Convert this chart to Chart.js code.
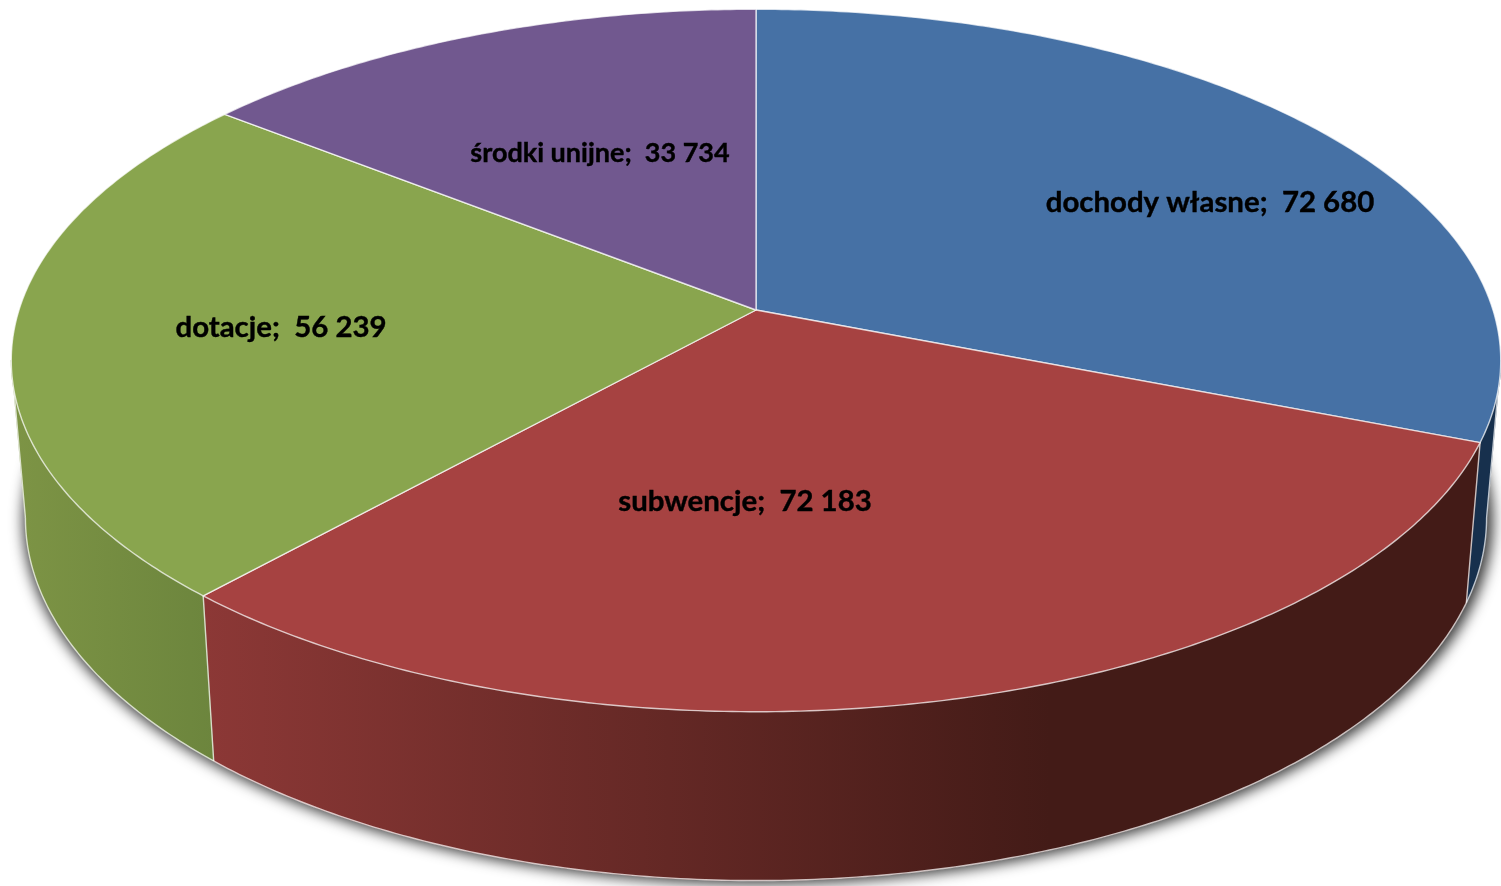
<!DOCTYPE html>
<html lang="pl">
<head>
<meta charset="utf-8">
<title>Dochody</title>
<style>
  html, body { margin: 0; padding: 0; background: #fff; }
  canvas { display: block; }
</style>
<script src="https://cdn.jsdelivr.net/npm/chart.js@4/dist/chart.umd.min.js"></script>
</head>
<body>
<canvas id="chart" width="1501" height="886"></canvas>
<script>
var categories = ["dochody własne", "subwencje", "dotacje", "środki unijne"];
var values = [72680, 72183, 56239, 33734];
var topColors = ["#4671a5", "#a64241", "#89a54e", "#71588f"];
var wallColors = [["#17304d", "#17304d"], ["#8c3836", "#431b17"], ["#7d9445", "#6c853d"], ["#5a4672", "#5a4672"]];
var wallSpans = [[1460, 1500], [204, 1050], [12, 215], [0, 1]];

// label centres on the page and font sizes, same order as categories
var labelCentres = [[1210, 203], [745, 502], [281, 328], [600, 153]];
var labelSizes = [29.4, 29.4, 29.4, 27];

// perspective of the disc: rim plane for the top face, bottom face and shadow
var topFace = { cx: 756, cy: 310, rx: 737, ry: 344, k: -0.1437 };
var bottomFace = { cx: 756, cy: 466, rx: 723, ry: 355, k: -0.1437 };
var shadowFace = { cx: 758, cy: 468, rx: 727, ry: 356, k: -0.1437 };
var rimEdge = "rgba(255,255,255,0.72)";

function project(face, angle) {
  var u = Math.cos(angle), v = Math.sin(angle);
  var d = 1 + face.k * v;
  return { x: face.cx + face.rx * u / d, y: face.cy + face.ry * v / d };
}

function traceRim(ctx, face, from, to) {
  var steps = Math.max(2, Math.ceil(Math.abs(to - from) / 0.01));
  for (var i = 0; i <= steps; i++) {
    var p = project(face, from + (to - from) * i / steps);
    ctx.lineTo(p.x, p.y);
  }
}

function connector(ctx, angle) {
  var a = project(topFace, angle), b = project(bottomFace, angle);
  ctx.moveTo(a.x, a.y);
  ctx.lineTo(b.x, b.y);
}

// angles where the side of the disc turns away: widest connector at mid height
function silhouetteAngles() {
  var right = 0, left = Math.PI, best = [-Infinity, Infinity];
  for (var t = 0; t <= Math.PI; t += 0.002) {
    var mid = (project(topFace, t).x + project(bottomFace, t).x) / 2;
    if (mid > best[0]) { best[0] = mid; right = t; }
    if (mid < best[1]) { best[1] = mid; left = t; }
  }
  return { right: right, left: left };
}

function formatValue(v) {
  return String(v).replace(/\B(?=(\d{3})+$)/g, " ");
}

// top face of a slice, drawn by the arc element itself
class PerspectiveArc extends Chart.ArcElement {
  draw(ctx) {
    var a = this.getProps(["startAngle", "endAngle"]);
    ctx.save();
    ctx.beginPath();
    ctx.moveTo(topFace.cx, topFace.cy);
    traceRim(ctx, topFace, a.startAngle, a.endAngle);
    ctx.closePath();
    ctx.fillStyle = this.options.backgroundColor;
    ctx.fill();
    ctx.strokeStyle = rimEdge;
    ctx.lineWidth = 1.4;
    ctx.lineJoin = "round";
    ctx.stroke();
    ctx.restore();
  }
}
PerspectiveArc.id = "perspectiveArc";

class PerspectivePie extends Chart.PieController {}
PerspectivePie.id = "perspectivePie";
PerspectivePie.defaults = { dataElementType: "perspectiveArc" };
PerspectivePie.overrides = Chart.PieController.overrides;

Chart.register(PerspectiveArc, PerspectivePie);

// walls and drop shadow go under the top faces
var wallsPlugin = {
  id: "walls",
  beforeDatasetsDraw: function(chart) {
    var ctx = chart.ctx;
    var arcs = chart.getDatasetMeta(0).data;
    var sil = silhouetteAngles();

    // shadow only: the shape itself is moved off the canvas
    ctx.save();
    ctx.shadowColor = "rgba(0,0,0,0.8)";
    ctx.shadowBlur = 14;
    ctx.shadowOffsetX = 3000;
    ctx.translate(-3000, 0);
    ctx.fillStyle = "#000";
    ctx.beginPath();
    traceRim(ctx, shadowFace, 0, Math.PI * 2);
    ctx.closePath();
    ctx.fill();
    ctx.restore();

    arcs.forEach(function(arc, i) {
      var a = arc.getProps(["startAngle", "endAngle"]);
      var from = Math.max(a.startAngle, sil.right), to = Math.min(a.endAngle, sil.left);
      if (to <= from) return;
      var g = ctx.createLinearGradient(wallSpans[i][0], 0, wallSpans[i][1], 0);
      g.addColorStop(0, wallColors[i][0]);
      g.addColorStop(1, wallColors[i][1]);
      ctx.save();
      ctx.fillStyle = g;
      ctx.strokeStyle = g;
      ctx.lineWidth = 1;
      ctx.beginPath();
      traceRim(ctx, topFace, from, to);
      traceRim(ctx, bottomFace, to, from);
      ctx.closePath();
      ctx.fill();
      ctx.stroke();
      ctx.restore();
    });

    // pale edges along the bottom rim, the slice joints and the side outline
    ctx.save();
    ctx.strokeStyle = rimEdge;
    ctx.lineWidth = 1.4;
    ctx.lineJoin = "round";
    ctx.beginPath();
    traceRim(ctx, bottomFace, sil.right, sil.left);
    ctx.stroke();
    ctx.beginPath();
    connector(ctx, sil.right);
    connector(ctx, sil.left);
    arcs.forEach(function(arc) {
      var end = arc.getProps(["endAngle"]).endAngle;
      if (end > sil.right && end < sil.left) connector(ctx, end);
    });
    ctx.stroke();
    ctx.restore();
  },
  afterDatasetsDraw: function(chart) {
    var ctx = chart.ctx;
    ctx.save();
    ctx.fillStyle = "#000";
    ctx.strokeStyle = "#000";
    ctx.lineWidth = 0.4;
    ctx.textAlign = "center";
    ctx.textBaseline = "middle";
    categories.forEach(function(name, i) {
      var text = name + ";  " + formatValue(values[i]);
      ctx.font = "bold " + labelSizes[i] + "px Lato";
      ctx.fillText(text, labelCentres[i][0], labelCentres[i][1]);
      ctx.strokeText(text, labelCentres[i][0], labelCentres[i][1]);
    });
    ctx.restore();
  }
};

new Chart(document.getElementById("chart"), {
  type: "perspectivePie",
  data: {
    labels: categories,
    datasets: [{ data: values, backgroundColor: topColors, borderWidth: 0 }]
  },
  options: {
    responsive: false,
    animation: false,
    plugins: { legend: { display: false }, tooltip: { enabled: false } }
  },
  plugins: [wallsPlugin]
});
</script>
</body>
</html>
